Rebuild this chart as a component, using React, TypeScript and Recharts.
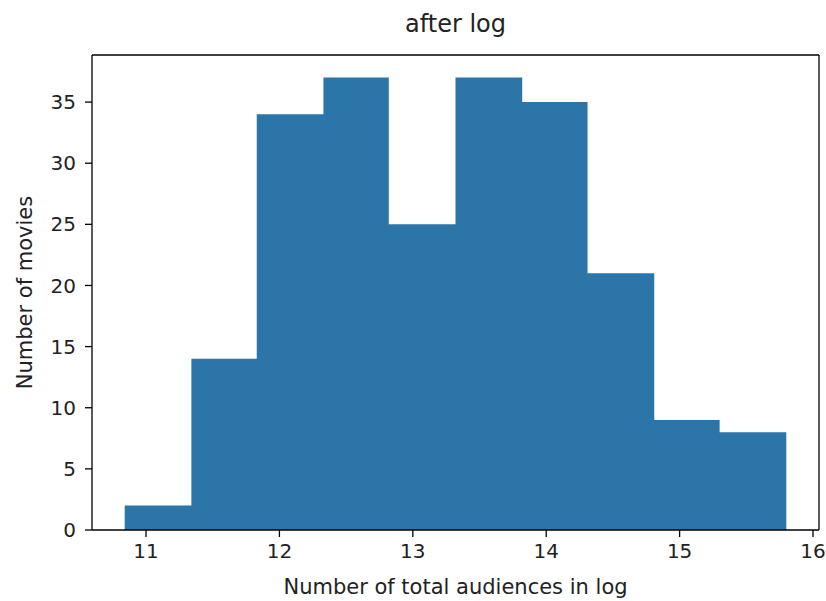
import React from 'react';
import {
  ComposedChart,
  Area,
  XAxis,
  YAxis,
  ReferenceLine,
} from 'recharts';

// bin edges of the histogram (log of total audiences)
const binEdges = [10.84, 11.34, 11.83, 12.33, 12.82, 13.32, 13.82, 14.31, 14.81, 15.3, 15.8];
// number of movies in each bin
const binCounts = [2, 14, 34, 37, 25, 37, 35, 21, 9, 8];

const xTicks = [11, 12, 13, 14, 15, 16];
const yTicks = [0, 5, 10, 15, 20, 25, 30, 35];
const xDomain = [10.595, 16.045];
const yDomain = [0, 38.85];

// step area needs one point per edge, the last edge repeats the last count
const data = binEdges.map((edge, i) => ({
  edge,
  count: binCounts[Math.min(i, binCounts.length - 1)],
}));

const font = '"DejaVu Sans", sans-serif';
const ink = '#222';
const spine = { stroke: '#000', strokeWidth: 1.3 };

const App = () => {
  return (
    <div style={{ position: 'absolute', left: 0, top: 0, width: 826, height: 601, background: '#fff', fontFamily: font }}>
      <div
        style={{
          position: 'absolute',
          top: 9,
          left: 92,
          width: 727,
          textAlign: 'center',
          fontSize: 24,
          lineHeight: '30px',
          color: ink,
        }}
      >
        after log
      </div>
      <ComposedChart
        width={826}
        height={601}
        data={data}
        margin={{ top: 55, right: 7, left: 0, bottom: 5 }}
      >
        <XAxis
          dataKey="edge"
          type="number"
          domain={xDomain}
          ticks={xTicks}
          allowDataOverflow
          height={66}
          tickSize={7}
          tickMargin={7}
          tick={{ fill: ink, fontSize: 20, fontFamily: font }}
          tickLine={spine}
          axisLine={spine}
          label={{
            value: 'Number of total audiences in log',
            position: 'insideBottom',
            offset: 2,
            fill: ink,
            fontSize: 21,
            fontFamily: font,
          }}
        />
        <YAxis
          domain={yDomain}
          ticks={yTicks}
          allowDataOverflow
          width={92}
          tickSize={7}
          tickMargin={9}
          tick={{ fill: ink, fontSize: 20, fontFamily: font }}
          tickLine={spine}
          axisLine={spine}
          label={{
            value: 'Number of movies',
            angle: -90,
            position: 'insideLeft',
            offset: 25,
            style: { textAnchor: 'middle' },
            fill: ink,
            fontSize: 21,
            fontFamily: font,
          }}
        />
        <Area
          type="stepAfter"
          dataKey="count"
          stroke="none"
          fill="#2c75a8"
          fillOpacity={1}
          isAnimationActive={false}
          dot={false}
          activeDot={false}
        />
        {/* top and right spines of the box */}
        <ReferenceLine y={yDomain[1]} {...spine} />
        <ReferenceLine x={xDomain[1]} {...spine} />
      </ComposedChart>
    </div>
  );
};

export default App;
